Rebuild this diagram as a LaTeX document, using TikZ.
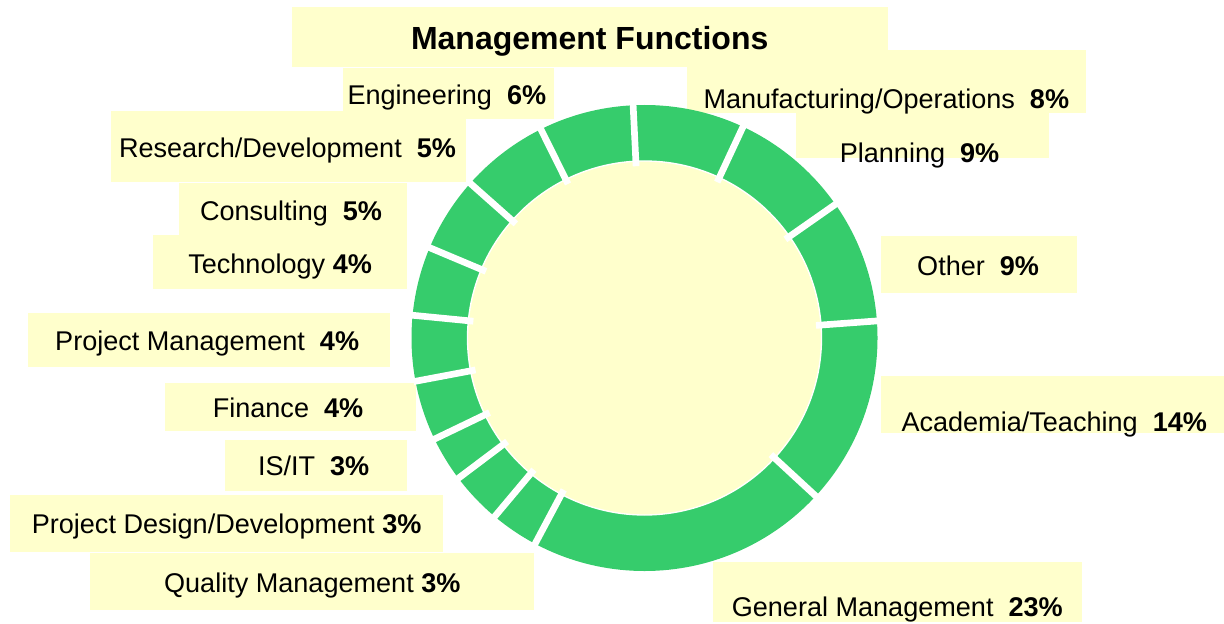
\documentclass[tikz,border=0pt]{standalone}
\usepackage{fontspec}
\setmainfont{Liberation Sans}
\definecolor{ringgreen}{RGB}{54,204,108}
\definecolor{paleyellow}{RGB}{255,255,204}
\tikzset{every picture/.style={line width=0.75pt},
  lbl/.style={anchor=base west, inner sep=0pt, font=\fontsize{20.3}{24}\selectfont},
  ttl/.style={anchor=base west, inner sep=0pt, font=\fontsize{24}{28}\selectfont\bfseries},
  gap/.style={white, line width=5pt}}

\begin{document}
\begin{tikzpicture}[x=0.75pt,y=0.75pt,yscale=-1,xscale=1]
\useasboundingbox (0,0) rectangle (1224,624);

%Shape: Rectangle [label backgrounds]
\foreach \xa/\ya/\xb/\yb in {291.7/6.7/888/66.7, 343.3/68/554.3/119, 111/111/465.7/181.7,
  179.3/182.7/407.3/235, 153.3/235/407.3/289, 27.5/313.3/389.5/366.7, 165.3/383.3/416/430.7,
  225/440/406.8/490.7, 9.6/495/443.2/551.7, 90/553.3/533.9/610, 713.3/561.7/1081.7/621.7,
  881/376/1224/433.3, 881.2/236/1076.6/293.3, 795.5/112.7/1048.5/158.3, 687/50/1086/112.7}
  \fill[paleyellow] (\xa,\ya) rectangle (\xb,\yb);

%Shape: Ring [segments split by white gaps]
\begin{scope}[shift={(644.5,338)}]
\fill[ringgreen] (0,0) circle (233);
\draw[white, line width=1pt, fill=paleyellow] (0,0) circle (177);
\foreach \a in {-92.8,-65,-35,-4.2,42.7,118,130,143,154.3,169.3,185.6,202.8,221.6,243.6}
  \draw[gap] (\a:172) -- (\a:235);
\end{scope}

% Text Node
\node[ttl] (title) at (410.5,49.3) {Management Functions};
% Text Node
\node[lbl] (eng) at (347,105) {Engineering\ \ \textbf{6\%}};
% Text Node
\node[lbl] (resdev) at (118.5,157.3) {Research/Development\ \ \textbf{5\%}};
% Text Node
\node[lbl] (consult) at (199.5,220) {Consulting\ \ \textbf{5\%}};
% Text Node
\node[lbl] (tech) at (187.8,273.3) {Technology \textbf{4\%}};
% Text Node
\node[lbl] (projmgmt) at (54.7,350.7) {Project Management\ \ \textbf{4\%}};
% Text Node
\node[lbl] (finance) at (212.3,417.3) {Finance\ \ \textbf{4\%}};
% Text Node
\node[lbl] (isit) at (257.5,475) {IS/IT\ \ \textbf{3\%}};
% Text Node
\node[lbl] (projdes) at (31.3,533.3) {Project Design/Development \textbf{3\%}};
% Text Node
\node[lbl] (quality) at (163.6,592.7) {Quality Management \textbf{3\%}};
% Text Node
\node[lbl] (genmgmt) at (731.3,616.7) {General Management\ \ \textbf{23\%}};
% Text Node
\node[lbl] (academia) at (901,431.7) {Academia/Teaching\ \ \textbf{14\%}};
% Text Node
\node[lbl] (other) at (916.7,275) {Other\ \ \textbf{9\%}};
% Text Node
\node[lbl] (planning) at (839.3,162.7) {Planning\ \ \textbf{9\%}};
% Text Node
\node[lbl] (manuf) at (703,108.3) {Manufacturing/Operations\ \ \textbf{8\%}};

\end{tikzpicture}
\end{document}
